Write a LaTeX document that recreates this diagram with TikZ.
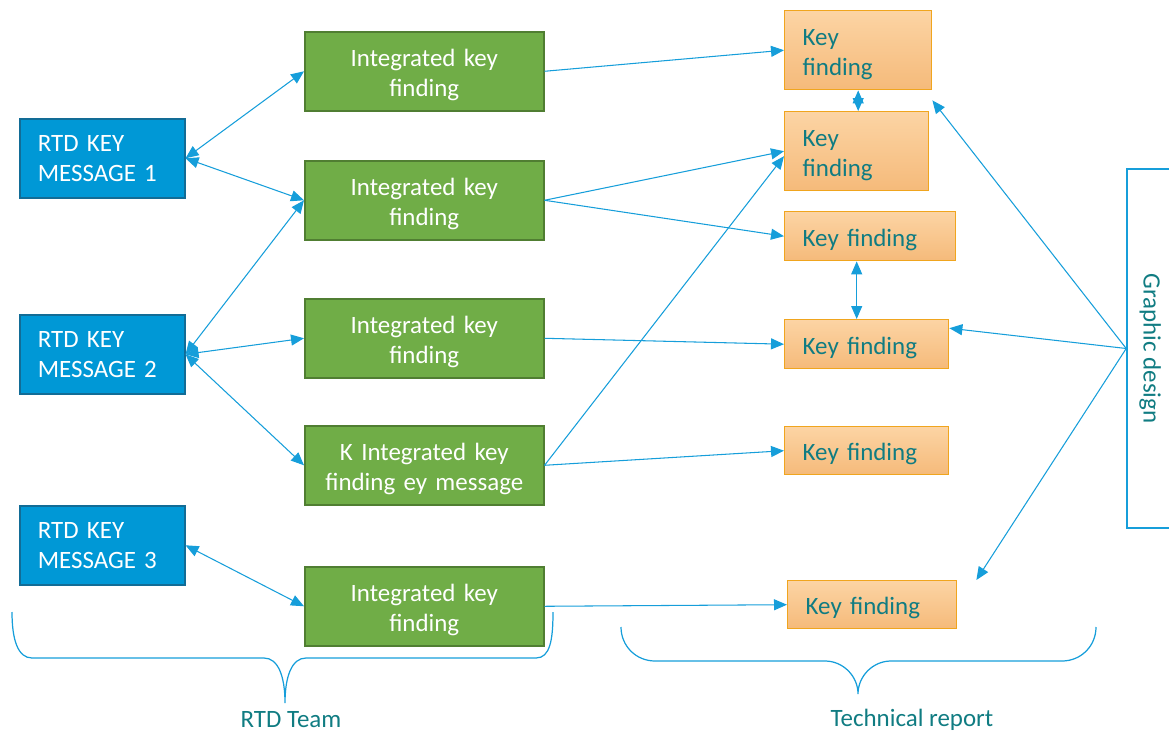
\documentclass[tikz,border=0pt]{standalone}
\usepackage{fontspec}
\setmainfont{Carlito}
\usetikzlibrary{arrows.meta}
\definecolor{msgblue}{RGB}{0,152,214}
\definecolor{msgedge}{RGB}{18,108,150}
\definecolor{intgreen}{RGB}{112,173,71}
\definecolor{intedge}{RGB}{80,126,50}
\definecolor{findtop}{RGB}{252,212,164}
\definecolor{findbot}{RGB}{245,186,122}
\definecolor{findedge}{RGB}{240,165,30}
\definecolor{txtteal}{RGB}{16,124,130}
\definecolor{linkblue}{RGB}{22,158,218}
\begin{document}
\begin{tikzpicture}[x=0.02cm, y=-0.02cm,
    font=\fontsize{14.2}{17.3}\selectfont,
    >={Triangle[length=0.26cm,width=0.22cm]},
    lower/.style={execute at begin node={\rule{0pt}{14pt}}},
    msg/.style={draw=msgedge, line width=0.9pt, fill=msgblue, text=white, align=left,
        anchor=north west, minimum height=1.58cm, inner xsep=0.36cm, text width=2.58cm},
    integ/.style={draw=intedge, line width=0.9pt, fill=intgreen, text=white, align=center, lower,
        anchor=north west, minimum height=1.58cm, inner xsep=0.36cm, text width=4.06cm},
    find/.style={draw=findedge, line width=0.8pt, top color=findtop, bottom color=findbot,
        text=txtteal, align=left, lower, anchor=north west, inner xsep=0.36cm},
    link/.style={draw=linkblue, line width=0.6pt},
    brace/.style={draw=linkblue, line width=0.7pt}]
    \useasboundingbox (0,0) rectangle (1169,733);
    \clip (0,0) rectangle (1169,733);

    % RTD key messages
    \node[msg] (m1) at (19,118) {RTD KEY\\MESSAGE 1};
    \node[msg] (m2) at (19,314) {RTD KEY\\MESSAGE 2};
    \node[msg] (m3) at (19,505) {RTD KEY\\MESSAGE 3};

    % integrated key findings
    \node[integ] (g1) at (304,31) {Integrated key\\finding};
    \node[integ] (g2) at (304,160) {Integrated key\\finding};
    \node[integ] (g3) at (304,298) {Integrated key\\finding};
    \node[integ] (g4) at (304,425) {K Integrated key\\finding ey message};
    \node[integ] (g5) at (304,566) {Integrated key\\finding};

    % key findings of the report
    \node[find, text width=2.22cm, minimum height=1.58cm] (k1) at (784,10) {Key\\finding};
    \node[find, text width=2.16cm, minimum height=1.58cm] (k2) at (784,111) {Key\\finding};
    \node[find, text width=2.70cm, minimum height=0.98cm] (k3) at (784,211) {Key finding};
    \node[find, text width=2.56cm, minimum height=0.98cm] (k4) at (784,319) {Key finding};
    \node[find, text width=2.56cm, minimum height=0.96cm] (k5) at (784,426) {Key finding};
    \node[find, text width=2.66cm, minimum height=0.96cm] (k6) at (787,580) {Key finding};

    \node[draw=linkblue, line width=0.9pt, text=txtteal, rotate=-90,
        minimum width=7.18cm, minimum height=0.92cm] (gd) at (1150,348.5) {Graphic design};

    % messages to findings
    \draw[link, <->] (m1.east) -- (g1.west);
    \draw[link, <->] (m1.east) -- (g2.west);
    \draw[link, <->] (m2.east) -- (g2.west);
    \draw[link, <->] (m2.east) -- (g3.west);
    \draw[link, <->] (m2.east) -- (g4.west);
    \draw[link, <->] (m3.east) -- (g5.west);

    % findings to report
    \draw[link, ->] (g1.east) -- (k1.west);
    \draw[link, ->] (g2.east) -- (k2.west);
    \draw[link, ->] (g2.east) -- (k3.west);
    \draw[link, ->] (g3.east) -- (k4.west);
    \draw[link, ->] (g4.east) -- ([yshift=-0.1cm]k2.west);
    \draw[link, ->] (g4.east) -- (k5.west);
    \draw[link, ->] (g5.east) -- (k6.west);
    \draw[link, <->] (k1.south) -- (k1.south |- k2.north);
    \draw[link, <->] (k3.south -| k2.south) -- (k4.north -| k2.south);

    % graphic design
    \draw[link, ->] (gd.south) -- ([yshift=-0.2cm]k1.south east);
    \draw[link, ->] (gd.south) -- ([yshift=0.32cm]k4.east);
    \draw[link, ->] (gd.south) -- ([xshift=0.38cm]k6.north east);

    % braces
    \draw[brace] (12,612) .. controls (12,640) and (18,658) .. (32,658) -- (264,658)
        .. controls (278,658) and (285,676) .. (285,703)
        .. controls (285,676) and (292,658) .. (306,658) -- (536,658)
        .. controls (550,658) and (553,640) .. (553,612);
    \draw[brace] (621,627) .. controls (621,646) and (636,661) .. (655,661) -- (825,661)
        .. controls (843,661) and (858,676) .. (858,694)
        .. controls (858,676) and (873,661) .. (891,661) -- (1062,661)
        .. controls (1081,661) and (1096,646) .. (1096,627);
    \node[text=txtteal] (team) at (291,720) {RTD Team};
    \node[text=txtteal] (report) at (912,720) {Technical report};
\end{tikzpicture}
\end{document}
